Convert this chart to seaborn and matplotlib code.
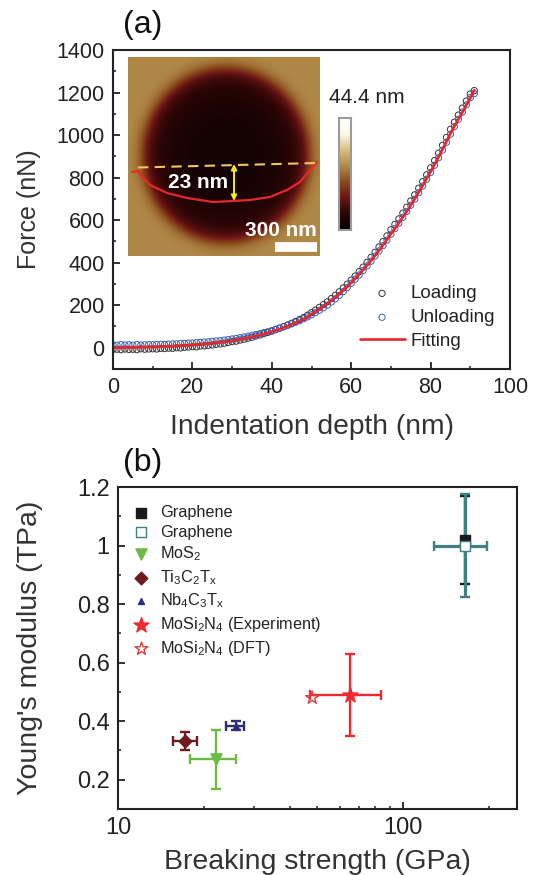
import numpy as np
import pandas as pd
import matplotlib
matplotlib.use('Agg')
import matplotlib.pyplot as plt
from matplotlib.colors import LinearSegmentedColormap
from matplotlib.ticker import MultipleLocator, LogLocator, NullFormatter, FixedLocator, FixedFormatter
import seaborn as sns

W, H = 535, 875

# panel a, force curve (1 nm steps)
depth = np.arange(92)
loading = [-8, -7, -9, -6, -8, -7, -9, -5, -7, -6,
           -5, -6, -3, -4, -2, -3, 0, -1, 2, 3,
           5, 4, 8, 9, 11, 13, 16, 18, 21, 25,
           29, 31, 36, 40, 45, 49, 55, 60, 66, 72,
           78, 85, 92, 99, 107, 115, 124, 133, 142, 153,
           165, 177, 190, 203, 216, 231, 247, 263, 281, 299,
           318, 337, 358, 379, 402, 425, 449, 474, 499, 526,
           555, 580, 606, 633, 661, 690, 719, 750, 781, 813,
           846, 880, 915, 952, 989, 1027, 1061, 1094, 1127, 1160,
           1193, 1209]
unloading = [14, 12, 15, 13, 14, 12, 15, 13, 14, 15,
             14, 15, 16, 15, 17, 18, 18, 20, 20, 22,
             22, 24, 25, 27, 28, 30, 32, 33, 36, 38,
             41, 44, 47, 51, 54, 58, 62, 66, 71, 75,
             81, 87, 92, 99, 105, 112, 120, 127, 136, 145,
             155, 165, 176, 188, 200, 215, 230, 246, 264, 283,
             303, 322, 342, 363, 385, 407, 431, 455, 480, 506,
             534, 560, 586, 613, 641, 670, 699, 729, 760, 792,
             824, 858, 893, 929, 966, 1004, 1040, 1074, 1108, 1142,
             1176, 1195]
fitting = [0, 0, 0, 1, 1, 1, 2, 2, 3, 3,
           4, 4, 5, 5, 6, 7, 8, 9, 10, 11,
           13, 14, 16, 17, 19, 21, 23, 25, 28, 30,
           33, 36, 40, 43, 47, 51, 56, 60, 65, 70,
           76, 82, 88, 95, 102, 110, 118, 126, 135, 145,
           158, 170, 182, 195, 208, 222, 237, 253, 270, 288,
           306, 325, 345, 366, 388, 410, 433, 457, 482, 508,
           535, 560, 586, 613, 641, 670, 700, 731, 763, 796,
           828, 862, 897, 933, 970, 1008, 1041, 1074, 1107, 1141,
           1175, 1211]

# inset line scan, pixels inside the AFM image
scan_x = [132, 138, 143, 150, 167, 187, 213, 233, 250, 270, 287, 300, 310, 317]
scan_y = [172, 171, 178, 185, 193, 198, 202, 201, 200, 197, 190, 182, 170, 162]

# panel b, materials
materials = ['Graphene', 'Graphene', 'MoS$_2$', 'Ti$_3$C$_2$T$_x$', 'Nb$_4$C$_3$T$_x$',
             'MoSi$_2$N$_4$ (Experiment)', 'MoSi$_2$N$_4$ (DFT)']
strength = [165, 165, 22, 17.2, 26, 65, 48]
modulus = [1.02, 1.0, 0.27, 0.333, 0.385, 0.49, 0.48]
strength_lo = [165, 128, 17.9, 15.6, 24, 47, 48]
strength_hi = [165, 197, 26, 18.9, 27.7, 84, 48]
modulus_err = [0.15, 0.175, 0.10, 0.03, 0.015, 0.14, 0]
colors = ['#1a1a1a', '#3f8080', '#6dbb45', '#6e1a1e', '#2e2e78', '#ee2a2e', '#d8403f']
markers = ['s', 's', 'v', 'D', '^', '*', '*']
sizes = [48, 60, 65, 42, 18, 130, 95]
err_widths = [1.7, 2.3, 1.7, 1.7, 1.7, 1.7, 1.7]

sns.set_style('white')
plt.rcParams['font.family'] = ['Liberation Sans', 'DejaVu Sans']
plt.rcParams['mathtext.fontset'] = 'custom'
plt.rcParams['mathtext.rm'] = 'Liberation Sans'
plt.rcParams['mathtext.it'] = 'Liberation Sans'
plt.rcParams['mathtext.default'] = 'regular'
plt.rcParams['text.color'] = '#222222'
plt.rcParams['axes.labelcolor'] = '#333333'
plt.rcParams['xtick.color'] = '#222222'
plt.rcParams['ytick.color'] = '#222222'


def px_axes(fig, left, top, right, bottom):
    return fig.add_axes([left / W, 1 - bottom / H, (right - left) / W, (bottom - top) / H])


def style_axes(ax, labelsize):
    for s in ax.spines.values():
        s.set_linewidth(1.5)
        s.set_color('#222222')
    ax.tick_params(which='major', direction='in', length=5, width=1.3, labelsize=labelsize,
                   left=True, bottom=True, top=False, right=False, pad=6)
    ax.tick_params(which='minor', direction='in', length=2.5, width=1.1,
                   left=True, bottom=True, top=False, right=False)


fig = plt.figure(figsize=(W / 100, H / 100), dpi=100, facecolor='white')

# (a)
ax = px_axes(fig, 113, 50, 510, 369)
sns.scatterplot(x=depth, y=loading, ax=ax, marker='o', s=20, facecolor='none',
                edgecolor='#333333', linewidth=0.7, label='Loading')
sns.scatterplot(x=depth, y=unloading, ax=ax, marker='o', s=20, facecolor='none',
                edgecolor='#3c5fb4', linewidth=0.7, label='Unloading')
sns.lineplot(x=depth, y=fitting, ax=ax, color='#e8262d', linewidth=1.9, label='Fitting')
ax.set_xlim(0, 100)
ax.set_ylim(-100, 1400)
ax.xaxis.set_major_locator(MultipleLocator(20))
ax.xaxis.set_minor_locator(MultipleLocator(10))
ax.yaxis.set_major_locator(MultipleLocator(200))
ax.yaxis.set_minor_locator(MultipleLocator(100))
style_axes(ax, 15.5)
ax.set_xlabel('Indentation depth (nm)', fontsize=20.3, labelpad=11)
ax.set_ylabel('Force (nN)', fontsize=18, labelpad=11)
leg = ax.legend(loc='lower right', bbox_to_anchor=(0.985, 0.03), frameon=False, fontsize=13.5,
                labelspacing=0.36, handlelength=2.4, handletextpad=0.3, borderpad=0)
fig.text(123 / W, 1 - 33 / H, '(a)', fontsize=23, color='#111111')

# AFM inset: image is built on its own axes in picture pixels
inset = px_axes(fig, 128, 57, 320, 256)
yy, xx = np.mgrid[57:256:400j, 128:320:400j]
rr = np.sqrt(((xx - 226) / 84.0) ** 2 + ((yy - 155) / 88.0) ** 2)
height = 0.07 + 0.15 * np.minimum(rr, 1.0) ** 3 + 0.35 / (1 + np.exp(-(rr - 0.99) / 0.05))
afm = LinearSegmentedColormap.from_list('afm', ['#000000', '#2a0505', '#6b1414', '#8a4a1c',
                                                '#b08a48', '#d8c07a', '#fbf8e8', '#ffffff'])
inset.imshow(height, cmap=afm, vmin=0, vmax=1, extent=(128, 320, 256, 57), aspect='auto')
inset.plot(scan_x, scan_y, color='#e8262d', linewidth=1.6)
inset.plot([138, 317], [167.5, 163], color='#ecc860', linewidth=1.5, linestyle=(0, (5, 3)))
inset.annotate('', xy=(234, 164), xytext=(234, 201),
               arrowprops=dict(arrowstyle='<|-|>', color='#f5ec1e', lw=1.4, mutation_scale=8,
                               shrinkA=0, shrinkB=0))
inset.text(198, 183, '23 nm', color='white', fontsize=15, fontweight='bold', ha='center', va='center')
inset.text(317, 231, '300 nm', color='white', fontsize=15, fontweight='bold', ha='right', va='center')
inset.plot([275, 317], [247, 247], color='white', linewidth=7, solid_capstyle='butt')
inset.set_xlim(128, 320)
inset.set_ylim(256, 57)
inset.axis('off')

# colour bar
cbar = px_axes(fig, 339, 118, 351, 230)
cbar.imshow(np.linspace(1, 0, 256).reshape(-1, 1), cmap=afm, vmin=0, vmax=1, aspect='auto')
cbar.set_xticks([])
cbar.set_yticks([])
for s in cbar.spines.values():
    s.set_color('#9a9a9a')
    s.set_linewidth(1.5)
fig.text(329 / W, 1 - 103 / H, '44.4 nm', fontsize=15, color='#222222')

# (b)
ax2 = px_axes(fig, 118, 487, 517, 809)
for i in range(len(materials)):
    if modulus_err[i] > 0 or strength_hi[i] != strength_lo[i]:
        ax2.errorbar(strength[i], modulus[i],
                     xerr=[[strength[i] - strength_lo[i]], [strength_hi[i] - strength[i]]],
                     yerr=modulus_err[i], fmt='none', ecolor=colors[i], elinewidth=err_widths[i],
                     capsize=3.5, capthick=1.7, zorder=2)
for i in range(len(materials)):
    face = 'none' if i == 6 else ('white' if i == 1 else colors[i])
    sns.scatterplot(x=[strength[i]], y=[modulus[i]], ax=ax2, marker=markers[i], s=sizes[i],
                    facecolor=face, edgecolor=colors[i], linewidth=1.0, label=materials[i], zorder=3)
ax2.set_xscale('log')
ax2.set_xlim(10, 251)
ax2.set_ylim(0.1, 1.2)
ax2.xaxis.set_major_locator(FixedLocator([10, 100]))
ax2.xaxis.set_major_formatter(FixedFormatter(['10', '100']))
ax2.xaxis.set_minor_locator(LogLocator(base=10, subs=range(2, 10)))
ax2.xaxis.set_minor_formatter(NullFormatter())
ax2.yaxis.set_major_locator(FixedLocator([0.2, 0.4, 0.6, 0.8, 1.0, 1.2]))
ax2.yaxis.set_major_formatter(FixedFormatter(['0.2', '0.4', '0.6', '0.8', '1', '1.2']))
ax2.yaxis.set_minor_locator(MultipleLocator(0.1))
style_axes(ax2, 17)
ax2.set_xlabel('Breaking strength (GPa)', fontsize=20.5, labelpad=7)
ax2.set_ylabel("Young's modulus (TPa)", fontsize=20.5, labelpad=24)
ax2.legend(loc='upper left', bbox_to_anchor=(0.012, 0.97), frameon=False, fontsize=11.7,
           labelspacing=0.3, handlelength=1.3, handletextpad=0.5, borderpad=0)
fig.text(123 / W, 1 - 471 / H, '(b)', fontsize=23, color='#111111')

fig.savefig('out.png', dpi=100)
